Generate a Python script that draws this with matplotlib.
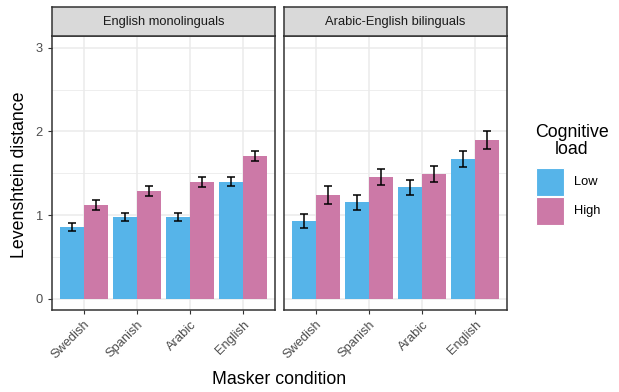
import numpy as np
import matplotlib
matplotlib.use("Agg")
from matplotlib import pyplot as plt
from matplotlib.patches import Rectangle
from matplotlib.transforms import ScaledTranslation

plt.rcParams['font.family'] = ['Liberation Sans', 'DejaVu Sans']

groups = ["English monolinguals", "Arabic-English bilinguals"]
maskers = ["Swedish", "Spanish", "Arabic", "English"]
loads = ["Low", "High"]
load_colors = ["#56B4E9", "#CC79A7"]

# mean Levenshtein distance, [group][load][masker]
mono_low = [0.86, 0.98, 0.98, 1.40]
mono_high = [1.12, 1.29, 1.39, 1.70]
bi_low = [0.93, 1.15, 1.33, 1.67]
bi_high = [1.24, 1.45, 1.49, 1.90]

# standard errors
mono_low_se = [0.05, 0.05, 0.05, 0.058]
mono_high_se = [0.06, 0.058, 0.06, 0.06]
bi_low_se = [0.088, 0.09, 0.09, 0.10]
bi_high_se = [0.105, 0.096, 0.098, 0.105]

means = [[mono_low, mono_high], [bi_low, bi_high]]
ses = [[mono_low_se, mono_high_se], [bi_low_se, bi_high_se]]

W, H = 619, 392
fig = plt.figure(figsize=(W / 100, H / 100), dpi=100)


def px_axes(left, top, right, bottom):
    return fig.add_axes([left / W, 1 - bottom / H, (right - left) / W, (bottom - top) / H])


panels = [(52, 275), (284, 507)]
top, bottom, strip_top = 36, 310, 7
x = np.arange(1, len(maskers) + 1)
bw = 0.45
small = 9.3
big = 12.8
nudge = ScaledTranslation(4 / 100, 0, fig.dpi_scale_trans)

for gi, (left, right) in enumerate(panels):
    ax = px_axes(left, top, right, bottom)
    ax.set_xlim(0.4, 4.6)
    ax.set_ylim(-0.135, 3.14)
    ax.set_yticks([0, 1, 2, 3])
    ax.set_yticks([0.5, 1.5, 2.5], minor=True)
    ax.set_xticks(x)
    ax.set_xticklabels(maskers, rotation=45, ha='right', va='top', rotation_mode='anchor',
                       fontsize=small, color='#4d4d4d')
    for lbl in ax.get_xticklabels():
        lbl.set_transform(lbl.get_transform() + nudge)
    ax.grid(True, which='major', color='#ebebeb', lw=1.1)
    ax.grid(True, which='minor', axis='y', color='#ebebeb', lw=0.6)
    ax.set_axisbelow(True)
    ax.tick_params(axis='both', which='major', length=3, color='#333333',
                   labelsize=small, labelcolor='#4d4d4d', width=0.8)
    ax.tick_params(axis='x', which='major', pad=3)
    ax.tick_params(axis='y', which='minor', length=0)
    if gi == 1:
        ax.tick_params(axis='y', which='major', labelleft=False, length=0)
    for s in ax.spines.values():
        s.set_color('#333333')
        s.set_linewidth(1.1)

    for li in range(2):
        xs = x + (li - 0.5) * bw
        ax.bar(xs, means[gi][li], width=bw, color=load_colors[li], zorder=2)
        ax.errorbar(xs, means[gi][li], yerr=ses[gi][li], fmt='none', ecolor='black',
                    elinewidth=1.1, capsize=2.9, capthick=1.1, zorder=3)

    sax = px_axes(left, strip_top, right, top)
    sax.set_facecolor('#d9d9d9')
    sax.set_xticks([])
    sax.set_yticks([])
    for s in sax.spines.values():
        s.set_color('#333333')
        s.set_linewidth(1.1)
    sax.text(0.5, 0.5, groups[gi], ha='center', va='center', fontsize=small,
             color='#1a1a1a', transform=sax.transAxes)

fig.text(20 / W, 1 - 175 / H, "Levenshtein distance", rotation=90, ha='center',
         va='center', fontsize=big)
fig.text(279 / W, 1 - 380 / H, "Masker condition", ha='center', va='center', fontsize=big)

# legend: title plus one key square per load level
fig.text(572 / W, 1 - 141 / H, "Cognitive\nload", ha='center', va='center',
         multialignment='center', fontsize=big, linespacing=1.0)
for li, (lab, col) in enumerate(zip(loads, load_colors)):
    y0 = 168 + li * 29
    fig.add_artist(Rectangle((536 / W, 1 - (y0 + 28) / H), 28 / W, 28 / H,
                             facecolor=col, edgecolor='white', lw=0.8,
                             transform=fig.transFigure))
    fig.text(574 / W, 1 - (y0 + 14) / H, lab, ha='left', va='center', fontsize=small)

fig.savefig("out.png", dpi=100)
